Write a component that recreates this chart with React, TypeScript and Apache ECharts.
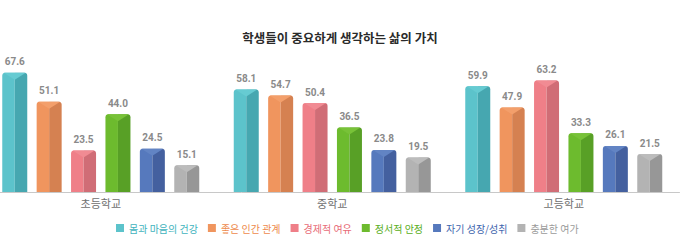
import React, { useEffect, useRef } from "react";
import * as echarts from "echarts";

const categories = ["초등학교", "중학교", "고등학교"];
const seriesNames = ["몸과 마음의 건강", "좋은 인간 관계", "경제적 여유", "정서적 안정", "자기 성장/성취", "충분한 여가"];
const health = [67.6, 58.1, 59.9];
const relations = [51.1, 54.7, 47.9];
const money = [23.5, 50.4, 63.2];
const stability = [44.0, 36.5, 33.3];
const growth = [24.5, 23.8, 26.1];
const leisure = [15.1, 19.5, 21.5];
const seriesValues = [health, relations, money, stability, growth, leisure];

const lightColors = ["#5cc3cb", "#f0955e", "#ef7f88", "#6dbb2e", "#5679bd", "#b3b3b3"];
const darkColors = ["#46a7b0", "#d58151", "#d06d76", "#58a026", "#44609f", "#979797"];
const capColors = ["#66cbd2", "#f39f6b", "#f18b93", "#78c238", "#6284c4", "#bcbcbc"];
const legendColors = ["#3fb3bd", "#ee8a4c", "#e86c78", "#5aae22", "#3e64ad", "#9a9a9a"];

const BAR_W = 25;
const STEP = 34.4;

export default function App() {
  const ref = useRef<HTMLDivElement>(null);
  useEffect(() => {
    if (!ref.current) return;
    const chart = echarts.init(ref.current, null, { renderer: "svg" });
    chart.setOption({
      animation: false,
      backgroundColor: "#ffffff",
      title: {
        text: "학생들이 중요하게 생각하는 삶의 가치",
        left: 350,
        textAlign: "center",
        top: 26,
        textStyle: {
          fontFamily: "Noto Sans CJK KR",
          fontSize: 12.5,
          fontWeight: "bold",
          color: "#2a2a2a",
        },
      },
      legend: {
        top: 218,
        left: 126,
        itemWidth: 8,
        itemHeight: 8,
        itemGap: 10,
        icon: "rect",
        data: seriesNames.map((n, i) => ({
          name: n,
          itemStyle: { color: lightColors[i] },
          textStyle: { color: legendColors[i] },
        })),
        textStyle: { fontFamily: "Noto Sans CJK KR", fontSize: 10 },
      },
      grid: { left: 0, right: 0.5, top: 15.5, bottom: 52, containLabel: false },
      xAxis: {
        type: "category",
        data: categories,
        axisLine: { lineStyle: { color: "#c8c8c8", width: 1 } },
        axisTick: { show: false },
        axisLabel: {
          margin: 5,
          color: "#707070",
          fontSize: 11,
          fontFamily: "Noto Sans CJK KR",
        },
      },
      yAxis: {
        type: "value",
        min: 0,
        max: 100,
        show: false,
      },
      series: seriesNames.map((n, i) => ({
        name: n,
        type: "custom",
        itemStyle: { color: lightColors[i] },
        encode: { x: 0, y: 1 },
        data: seriesValues[i].map((v, j) => [j, v]),
        renderItem: (params: any, api: any) => {
          const idx = api.value(0);
          const val = api.value(1);
          const top = api.coord([idx, val]);
          const base = api.coord([idx, 0]);
          const cx = top[0] + (i - 2.5) * STEP;
          const x0 = cx - BAR_W / 2;
          const yTop = top[1];
          const h = base[1] - yTop;
          return {
            type: "group",
            children: [
              {
                type: "rect",
                shape: { x: x0, y: yTop, width: BAR_W / 2, height: h, r: [3, 0, 0, 0] },
                style: { fill: lightColors[i] },
              },
              {
                type: "rect",
                shape: { x: cx, y: yTop, width: BAR_W / 2, height: h, r: [0, 3, 0, 0] },
                style: { fill: darkColors[i] },
              },
              {
                type: "polygon",
                shape: {
                  points: [
                    [x0 + 1.5, yTop],
                    [x0 + BAR_W - 1.5, yTop],
                    [cx, yTop + 7],
                  ],
                },
                style: { fill: capColors[i] },
              },
              {
                type: "text",
                style: {
                  text: Number(val).toFixed(1),
                  x: cx,
                  y: yTop - 6,
                  align: "center",
                  verticalAlign: "bottom",
                  fill: "#8a8a8a",
                  fontSize: 10,
                  fontWeight: "bold",
                  fontFamily: "Roboto",
                },
              },
            ],
          };
        },
      })),
    });
    return () => chart.dispose();
  }, []);
  return (
    <div
      ref={ref}
      style={{ position: "fixed", left: -15, top: 0, width: 695, height: 244 }}
    />
  );
}
